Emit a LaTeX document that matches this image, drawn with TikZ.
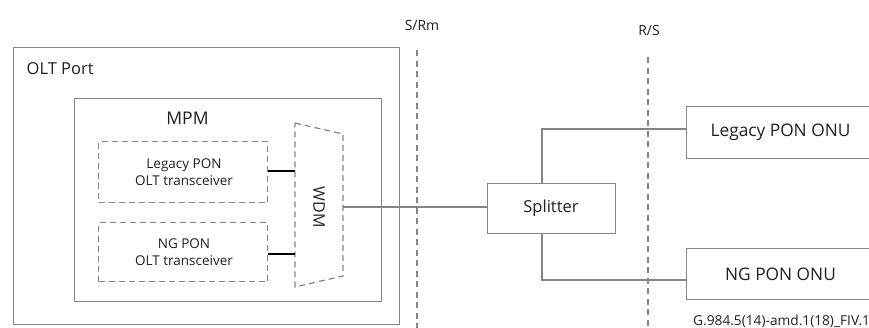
\documentclass[tikz,border=0pt]{standalone}
\usepackage{fontspec}
\setmainfont{Open Sans}
\definecolor{ln}{HTML}{858585}
\definecolor{tx}{HTML}{231F20}
\begin{document}
\begin{tikzpicture}[x=1pt,y=-1pt,
  box/.style={draw=ln,line width=1.4pt,rectangle,inner sep=0pt,anchor=north west},
  dbox/.style={draw=ln,line width=1.2pt,dash pattern=on 6pt off 4pt,rectangle,inner sep=0pt,anchor=north west},
  ref/.style={draw=ln,line width=1.2pt,dash pattern=on 6pt off 4.5pt},
  wire/.style={draw=ln,line width=1.2pt},
  bwire/.style={draw=black,line width=1.5pt},
  lab/.style={text=tx,inner sep=0pt,font=\fontsize{#1}{#1}\selectfont},
]
\clip (0,0) rectangle (869,327);
\fill[white] (0,0) rectangle (869,327);
% OLT port & MPM
\node[box,minimum width=386pt,minimum height=277pt] (olt) at (13,47) {};
\node[lab=16.5,anchor=west] (oltl) at (26.5,69) {OLT Port};
\node[box,minimum width=307pt,minimum height=203pt] (mpm) at (74,98) {};
\node[lab=17.5] (mpml) at (187.5,118) {MPM};
% transceivers
\node[dbox,minimum width=169pt,minimum height=61pt] (leg) at (98,141) {};
\node[lab=13.5,align=center] (legl) at (184,172) {Legacy PON\\[3pt]OLT transceiver};
\node[dbox,minimum width=169pt,minimum height=59pt] (ng) at (98,222) {};
\node[lab=13.5,align=center] (ngl) at (184,252) {NG PON\\[3pt]OLT transceiver};
% WDM
\coordinate (w1) at (295,123);
\coordinate (w2) at (343,134);
\coordinate (w3) at (343,276);
\coordinate (w4) at (295,287);
\draw[ln,line width=1.2pt,dash pattern=on 6pt off 4pt] (w1) -- (w2) -- (w3) -- (w4) -- cycle;
\node[lab=16,rotate=-90] (wdm) at (319,207) {WDM};
\coordinate (wa) at (295,171);
\coordinate (wb) at (295,254);
\coordinate (wo) at (343,207);
\draw[bwire] (leg.east |- wa) -- (wa);
\draw[bwire] (ng.east |- wb) -- (wb);
% reference points
\coordinate (srt) at (417,50);
\coordinate (srb) at (417,330);
\coordinate (rst) at (648,57);
\coordinate (rsb) at (648,330);
\draw[ref] (srt) -- (srb);
\draw[ref] (rst) -- (rsb);
\node[lab=14] (srl) at (422,25) {S/Rm};
\node[lab=14] (rsl) at (649,30) {R/S};
% splitter
\node[box,minimum width=128pt,minimum height=50pt] (spl) at (487,183) {};
\node[lab=16.5] (spll) at (551,208) {Splitter};
\draw[wire] (wo) -- (spl.west |- wo);
% ONUs
\node[box,minimum width=200pt,minimum height=52pt] (onu1) at (686,106) {};
\node[lab=17.3] (onu1l) at (780.5,132) {Legacy PON ONU};
\node[box,minimum width=200pt,minimum height=51pt] (onu2) at (686,248) {};
\node[lab=17.3] (onu2l) at (780.5,274.5) {NG PON ONU};
\coordinate (b1) at (542,129);
\coordinate (b2) at (542,280);
\draw[wire] (spl.north -| b1) -- (b1) -- (onu1.west |- b1);
\draw[wire] (spl.south -| b2) -- (b2) -- (onu2.west |- b2);
% caption
\node[lab=13.7,anchor=west] (cap) at (693,321) {G.984.5(14)-amd.1(18)\_FIV.1};
\end{tikzpicture}
\end{document}
